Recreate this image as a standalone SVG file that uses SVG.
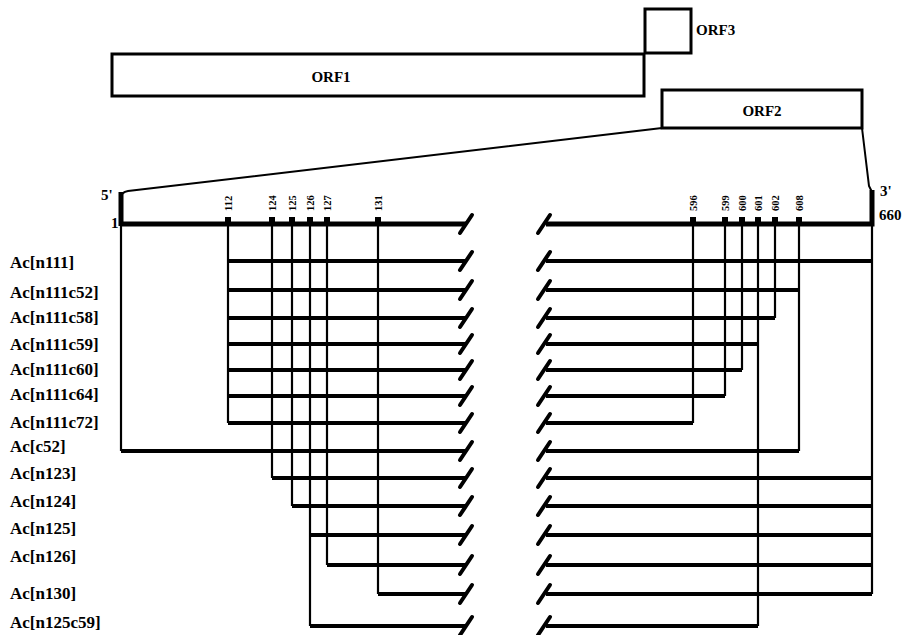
<svg xmlns="http://www.w3.org/2000/svg" width="904" height="635" viewBox="0 0 904 635">
<style>
.bg{fill:#fff}
.box{fill:none;stroke:#000;stroke-width:3}
.t{font-family:"Liberation Serif","Times New Roman",serif;font-weight:bold;fill:#000}
.lab{font-size:17px}
.orf{font-size:15px}
.tick{font-size:10.5px}
.end{font-size:15px}
.h{stroke:#000;stroke-width:4;fill:none}
.v{stroke:#000;stroke-width:2.2;fill:none}
.ruler{stroke:#000;stroke-width:5;fill:none}
.sl{stroke:#000;stroke-width:4;stroke-linecap:round;fill:none}
.thin{stroke:#000;stroke-width:2;fill:none}
</style>
<defs>
<path id="slash" d="M-6,9 L6,-9"/>
<rect id="tk" x="-3" y="-7" width="6" height="7"/>
</defs>
<rect class="bg" width="904" height="635"/>

<g id="orf3">
<rect class="box" x="645" y="9" width="46" height="44"/>
<text class="t orf" x="696" y="35">ORF3</text>
</g>
<g id="orf1">
<rect class="box" x="112" y="54" width="532" height="42"/>
<text class="t orf" x="331" y="82" text-anchor="middle">ORF1</text>
</g>
<g id="orf2">
<rect class="box" x="662" y="90" width="200" height="38"/>
<text class="t orf" x="762" y="116" text-anchor="middle">ORF2</text>
</g>

<g id="ruler">
<path class="thin" d="M662,128 L128,191 Q121,192 121,198"/>
<path class="thin" d="M862,128 L869,186 Q871,190 872,192"/>
<path class="ruler" d="M121,192 L121,226 M121,224 L466,224 M546,224 L872,224 L872,190"/>
<use href="#slash" class="sl" x="466" y="224"/>
<use href="#slash" class="sl" x="544" y="224"/>
<text class="t end" x="101" y="200">5'</text>
<text class="t end" x="111" y="228" font-size="12">1</text>
<text class="t end" x="880" y="196">3'</text>
<text class="t end" x="879" y="220" font-size="12">660</text>
<g fill="#000">
<use href="#tk" x="228" y="224"/><use href="#tk" x="272" y="224"/><use href="#tk" x="292" y="224"/>
<use href="#tk" x="310" y="224"/><use href="#tk" x="327" y="224"/><use href="#tk" x="378" y="224"/>
<use href="#tk" x="693" y="224"/><use href="#tk" x="725" y="224"/><use href="#tk" x="742" y="224"/>
<use href="#tk" x="758" y="224"/><use href="#tk" x="775" y="224"/><use href="#tk" x="799" y="224"/>
</g>
<g class="t tick">
<text transform="translate(231.5,211) rotate(-90)">112</text>
<text transform="translate(275.5,211) rotate(-90)">124</text>
<text transform="translate(295.5,211) rotate(-90)">125</text>
<text transform="translate(313.5,211) rotate(-90)">126</text>
<text transform="translate(330.5,211) rotate(-90)">127</text>
<text transform="translate(381.5,211) rotate(-90)">131</text>
<text transform="translate(696.5,211) rotate(-90)">596</text>
<text transform="translate(728.5,211) rotate(-90)">599</text>
<text transform="translate(745.5,211) rotate(-90)">600</text>
<text transform="translate(761.5,211) rotate(-90)">601</text>
<text transform="translate(778.5,211) rotate(-90)">602</text>
<text transform="translate(802.5,211) rotate(-90)">608</text>
</g>
</g>

<g id="labels" class="t lab">
<g id="r1"><text x="10" y="268">Ac[n111]</text></g>
<g id="r2"><text x="10" y="298">Ac[n111c52]</text></g>
<g id="r3"><text x="10" y="323">Ac[n111c58]</text></g>
<g id="r4"><text x="10" y="350">Ac[n111c59]</text></g>
<g id="r5"><text x="10" y="375">Ac[n111c60]</text></g>
<g id="r6"><text x="10" y="400">Ac[n111c64]</text></g>
<g id="r7"><text x="10" y="428">Ac[n111c72]</text></g>
<g id="r8"><text x="10" y="452">Ac[c52]</text></g>
<g id="r9"><text x="10" y="479">Ac[n123]</text></g>
<g id="r10"><text x="10" y="507">Ac[n124]</text></g>
<g id="r11"><text x="10" y="534">Ac[n125]</text></g>
<g id="r12"><text x="10" y="562">Ac[n126]</text></g>
<g id="r13"><text x="10" y="599">Ac[n130]</text></g>
<g id="r14"><text x="10" y="628">Ac[n125c59]</text></g>
</g>

<g id="connectors">
<g class="v">
<path d="M121,224 V451"/>
<path d="M228,224 V423"/>
<path d="M272,224 V478"/>
<path d="M292,224 V506"/>
<path d="M310,224 V626"/>
<path d="M327,224 V565"/>
<path d="M378,224 V594"/>
<path d="M693,224 V423"/>
<path d="M725,224 V396"/>
<path d="M742,224 V370"/>
<path d="M758,224 V626"/>
<path d="M775,224 V318"/>
<path d="M799,224 V451"/>
<path d="M872,224 V594"/>
</g>
<g class="h">
<path d="M228,261 H466 M546,261 H872"/>
<path d="M228,290 H466 M546,290 H799"/>
<path d="M228,318 H466 M546,318 H775"/>
<path d="M228,344 H466 M546,344 H758"/>
<path d="M228,370 H466 M546,370 H742"/>
<path d="M228,396 H466 M546,396 H725"/>
<path d="M228,423 H466 M546,423 H693"/>
<path d="M121,451 H466 M546,451 H799"/>
<path d="M272,478 H466 M546,478 H872"/>
<path d="M292,506 H466 M546,506 H872"/>
<path d="M310,535 H466 M546,535 H872"/>
<path d="M327,565 H466 M546,565 H872"/>
<path d="M378,594 H466 M546,594 H872"/>
<path d="M310,626 H466 M546,626 H758"/>
</g>
<g class="sl">
<use href="#slash" x="466" y="261"/><use href="#slash" x="544" y="261"/>
<use href="#slash" x="466" y="290"/><use href="#slash" x="544" y="290"/>
<use href="#slash" x="466" y="318"/><use href="#slash" x="544" y="318"/>
<use href="#slash" x="466" y="344"/><use href="#slash" x="544" y="344"/>
<use href="#slash" x="466" y="370"/><use href="#slash" x="544" y="370"/>
<use href="#slash" x="466" y="396"/><use href="#slash" x="544" y="396"/>
<use href="#slash" x="466" y="423"/><use href="#slash" x="544" y="423"/>
<use href="#slash" x="466" y="451"/><use href="#slash" x="544" y="451"/>
<use href="#slash" x="466" y="478"/><use href="#slash" x="544" y="478"/>
<use href="#slash" x="466" y="506"/><use href="#slash" x="544" y="506"/>
<use href="#slash" x="466" y="535"/><use href="#slash" x="544" y="535"/>
<use href="#slash" x="466" y="565"/><use href="#slash" x="544" y="565"/>
<use href="#slash" x="466" y="594"/><use href="#slash" x="544" y="594"/>
<use href="#slash" x="466" y="626"/><use href="#slash" x="544" y="626"/>
</g>
</g>
</svg>
